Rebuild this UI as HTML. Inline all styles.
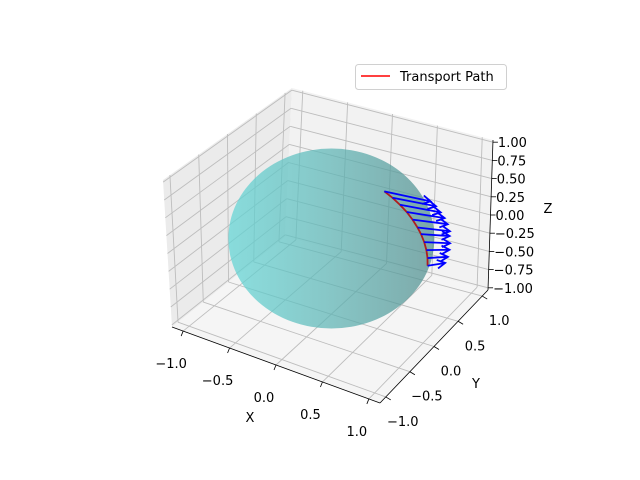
<!DOCTYPE html>
<html><head><meta charset="utf-8">
<style>
html,body{margin:0;padding:0;background:#fff;}
svg{display:block;font-family:"DejaVu Sans","Liberation Sans",sans-serif;}
</style></head>
<body>
<svg id="chart" width="640" height="480" viewBox="0 0 640 480" xmlns="http://www.w3.org/2000/svg">
<defs>
<linearGradient id="sph" x1="0" y1="0" x2="1" y2="0">
<stop offset="0" stop-color="#62d6d6"/>
<stop offset="0.5" stop-color="#5cb4b4"/>
<stop offset="1" stop-color="#4f8c8c"/>
</linearGradient>
</defs>
<g id="panes"></g>
<g id="grid"></g>
<g id="axes"></g>
<g id="sphereG"></g>
<g id="marks"></g>
<g id="labels" font-size="13" fill="#000"></g>
<g>
<rect x="355.5" y="64.5" width="151" height="25" rx="3" fill="#fff" stroke="#d0d0d0"/>
<line x1="361" y1="76" x2="390" y2="76" stroke="#ff0000" stroke-width="1.6"/>
<text x="400" y="81" font-size="13">Transport Path</text>
</g>
</svg>
<script>
// ---- data ----
const xTicks = [-1.0, -0.5, 0.0, 0.5, 1.0];
const yTicks = [-1.0, -0.5, 0.0, 0.5, 1.0];
const zTicks = [-1.0, -0.75, -0.5, -0.25, 0.0, 0.25, 0.5, 0.75, 1.0];
const xTickLabels = ["\u22121.0", "\u22120.5", "0.0", "0.5", "1.0"];
const yTickLabels = ["\u22121.0", "\u22120.5", "0.0", "0.5", "1.0"];
const zTickLabels = ["\u22121.00", "\u22120.75", "\u22120.50", "\u22120.25", "0.00", "0.25", "0.50", "0.75", "1.00"];
// path polar angles (degrees) and azimuth
const pathTheta = [33, 39, 45, 51, 57, 63, 68, 74, 80, 86, 92];
const pathPhi = [5, 5, 5, 5, 5, 5, 5, 5, 5, 5, 5];
// transported vector components
const vecX = [0.50, 0.47, 0.44, 0.41, 0.38, 0.35, 0.31, 0.28, 0.25, 0.22, 0.19];
const vecY = [0, 0, 0, 0, 0, 0, 0, 0, 0, 0, 0];
const vecZ = [0.05, 0.06, 0.06, 0.07, 0.08, 0.08, 0.09, 0.09, 0.10, 0.10, 0.11];

// ---- projection (trilinear through measured box corners) ----
const L = 1.12, LZ = 1.03;
const C = {
 "000":[172,327],"100":[380,403],"110":[488,290],"010":[285,237],
 "001":[163,180],"101":[378,251],"111":[493,140],"011":[292,88]
};
function proj(x,y,z){
  const u=(x+L)/(2*L), v=(y+L)/(2*L), w=(z+LZ)/(2*LZ);
  const r=[0,0];
  for(const a of [0,1])for(const b of [0,1])for(const c of [0,1]){
    const wt=(a?u:1-u)*(b?v:1-v)*(c?w:1-w);
    const p=C[""+a+b+c]; r[0]+=wt*p[0]; r[1]+=wt*p[1];
  }
  return r;
}
const NS="http://www.w3.org/2000/svg";
function mk(parent,tag,attrs){const e=document.createElementNS(NS,tag);for(const k in attrs)e.setAttribute(k,attrs[k]);document.getElementById(parent).appendChild(e);return e;}
function poly(pts){return pts.map(p=>p[0].toFixed(1)+","+p[1].toFixed(1)).join(" ");}

// panes
let e;
e=mk("panes","polygon",{points:poly([proj(-L,-L,-LZ),proj(-L,L,-LZ),proj(-L,L,LZ),proj(-L,-L,LZ)]),fill:"#ebebeb"});


e=mk("panes","polygon",{points:poly([proj(-L,L,-LZ),proj(L,L,-LZ),proj(L,L,LZ),proj(-L,L,LZ)]),fill:"#f2f2f2"});


e=mk("panes","polygon",{points:poly([proj(-L,-L,-LZ),proj(L,-L,-LZ),proj(L,L,-LZ),proj(-L,L,-LZ)]),fill:"#f5f5f5"});



function gl(a,b){
  const l=mk("grid","line",{x1:a[0],y1:a[1],x2:b[0],y2:b[1],stroke:"#bdbdbd","stroke-width":0.9});
  
  
}
xTicks.forEach(t=>{gl(proj(t,-L,-LZ),proj(t,L,-LZ));gl(proj(t,L,-LZ),proj(t,L,LZ));});
yTicks.forEach(t=>{gl(proj(-L,t,-LZ),proj(L,t,-LZ));gl(proj(-L,t,-LZ),proj(-L,t,LZ));});
zTicks.forEach(t=>{gl(proj(-L,-L,t),proj(-L,L,t));gl(proj(-L,L,t),proj(L,L,t));});

// axis lines
function al(a,b,name){
  const l=mk("axes","line",{x1:a[0],y1:a[1],x2:b[0],y2:b[1],stroke:"#000","stroke-width":0.8});
  
  
}
al(proj(-L,-L,-LZ),proj(L,-L,-LZ),'x-axis-line');
al(proj(L,-L,-LZ),proj(L,L,-LZ),'y-axis-line');
al(proj(L,L,-LZ),proj(L,L,LZ),'z-axis-line');
function tk(p,dx,dy){
  const l=mk("axes","line",{x1:p[0],y1:p[1],x2:p[0]+dx,y2:p[1]+dy,stroke:"#000","stroke-width":0.8});
  
  
}
xTicks.forEach(t=>tk(proj(t,-L,-LZ),-2,5));
yTicks.forEach(t=>tk(proj(L,t,-LZ),5,3));
zTicks.forEach(t=>tk(proj(L,L,t),5,0));

// tick labels
function lab(txt,x,y,anchor,name){
  const t=mk("labels","text",{x:x,y:y,"text-anchor":anchor});
  t.textContent=txt;
  
  
}
xTicks.forEach((t,i)=>{const p=proj(t,-L,-LZ);lab(xTickLabels[i],p[0]-12,p[1]+37,"middle",'x-tick-label');});
yTicks.forEach((t,i)=>{const p=proj(L,t,-LZ);lab(yTickLabels[i],p[0]+17,p[1]+29,"middle",'y-tick-label');});
zTicks.forEach((t,i)=>{const p=proj(L,L,t);lab(zTickLabels[i],p[0]+5,p[1]+5,"start",'z-tick-label');});
lab("X",250,422,"middle",'x-axis-title');
lab("Y",476,388,"middle",'y-axis-title');
lab("Z",548,213,"middle",'z-axis-title');

// sphere
const c0=proj(0,0,0);
e=mk("sphereG","ellipse",{cx:c0[0],cy:c0[1]-1,rx:103,ry:90,fill:"url(#sph)","fill-opacity":0.72});



// path
const pts=pathTheta.map((th,i)=>{const t=th*Math.PI/180,f=pathPhi[i]*Math.PI/180;
  return [Math.sin(t)*Math.cos(f),Math.sin(t)*Math.sin(f),Math.cos(t)];});
e=mk("marks","polyline",{points:poly(pts.map(p=>proj(p[0],p[1],p[2]))),fill:"none",stroke:"#b01c1c","stroke-width":1.8});



// vectors
pts.forEach((p,i)=>{
  const a=proj(p[0],p[1],p[2]);
  const b=proj(p[0]+vecX[i],p[1]+vecY[i],p[2]+vecZ[i]);
  const dx=b[0]-a[0],dy=b[1]-a[1],len=Math.hypot(dx,dy);
  const ux=dx/len,uy=dy/len,h=9;
  const ang=0.5;
  const h1=[b[0]-h*(ux*Math.cos(ang)-uy*Math.sin(ang)),b[1]-h*(uy*Math.cos(ang)+ux*Math.sin(ang))];
  const h2=[b[0]-h*(ux*Math.cos(ang)+uy*Math.sin(ang)),b[1]-h*(uy*Math.cos(ang)-ux*Math.sin(ang))];
  const g=mk("marks","path",{d:`M${a[0]},${a[1]}L${b[0]},${b[1]}M${h1[0]},${h1[1]}L${b[0]},${b[1]}L${h2[0]},${h2[1]}`,fill:"none",stroke:"#0000ff","stroke-width":1.8});
  
  
});
</script>
</body></html>
